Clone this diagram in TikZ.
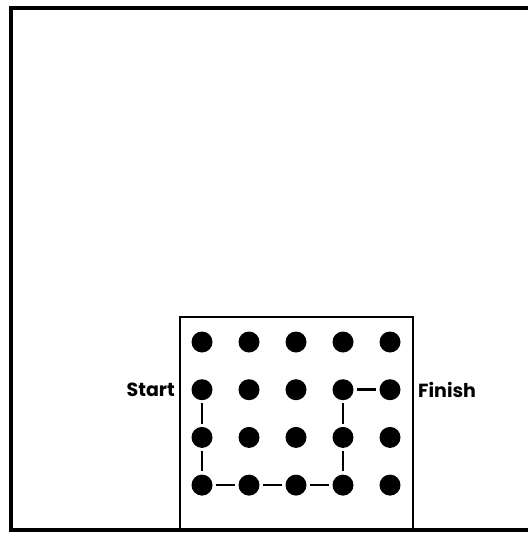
\documentclass[tikz,border=0pt]{standalone}
\usepackage{fontspec}
\setmainfont{Poppins}
\begin{document}
\begin{tikzpicture}[x=1pt,y=-1pt]
\useasboundingbox (0,0) rectangle (528,533);
\tikzset{dot/.style={circle,fill=black,inner sep=0pt,minimum size=21pt},
  link/.style={line width=2.5pt,shorten <=3pt,shorten >=3pt},
  lbl/.style={font=\bfseries\fontsize{19}{19}\selectfont,inner sep=0pt}}
\draw[line width=4.5pt] (528,8) -- (11,8) -- (11,530) -- (528,530);
\draw[line width=2.2pt] (180,530) -- (180,317) -- (413,317) -- (413,530);
\foreach \c in {1,...,5}
\foreach \r in {1,...,4}
\node[dot] (d\c\r) at ({202+47*(\c-1)},{342+47.7*(\r-1)}) {};
%%%%
\foreach \a/\b in {12/13,13/14,14/24,24/34,34/44,44/43,43/42,42/52}
\draw[link] (d\a) -- (d\b);
\node[lbl,anchor=east] (start) at (175,390) {Start};
\node[lbl,anchor=west] (finish) at (418,390) {Finish};
\end{tikzpicture}
\end{document}
